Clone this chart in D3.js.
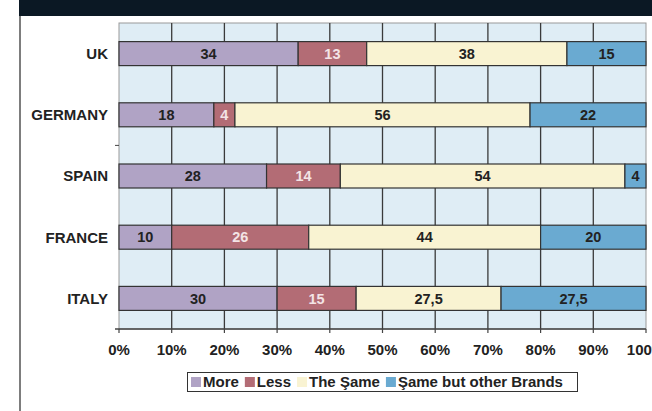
<!DOCTYPE html>
<html>
<head>
<meta charset="utf-8">
<script src="https://cdn.jsdelivr.net/npm/d3@7"></script>
<style>
  html, body { margin: 0; padding: 0; background: #fff; }
  svg { display: block; }
  text { font-family: Arial, "Liberation Sans", sans-serif; font-weight: bold; }
</style>
</head>
<body>
<svg id="chart" width="652" height="411"></svg>
<script>
// Countries (top to bottom) and share of answers per category, in %
const countries = ["UK", "GERMANY", "SPAIN", "FRANCE", "ITALY"];
const more       = [34, 18, 28, 10, 30];
const less       = [13, 4, 14, 26, 15];
const same       = [38, 56, 54, 44, 27.5];
const sameOther  = [15, 22, 4, 20, 27.5];
const seriesNames = ["More", "Less", "The Şame", "Şame but other Brands"];
const tickValues = [0, 10, 20, 30, 40, 50, 60, 70, 80, 90, 100];

const colors = ["#b0a3c5", "#b36c75", "#f9f3d2", "#6aaad1"];
const labelColors = ["#222", "#f3e4e6", "#222", "#222"];

const svg = d3.select("#chart");
const W = 652, H = 411;
const m = { left: 119, right: 6, top: 23, bottom: 82 };

// Header band and left frame line
svg.append("rect").attr("x", 19).attr("y", 0).attr("width", W - 19).attr("height", 16).attr("fill", "#0b1824");
svg.append("rect").attr("x", 19).attr("y", 16).attr("width", 2).attr("height", H - 16).attr("fill", "#7d7d7d");

const x = d3.scaleLinear().domain([0, 100]).range([m.left, W - m.right]);
const y = d3.scaleBand().domain(countries).range([m.top, H - m.bottom]).paddingInner(0).paddingOuter(0);

// Plot background
svg.append("rect")
  .attr("x", x(0)).attr("y", m.top)
  .attr("width", x(100) - x(0)).attr("height", y.range()[1] - m.top)
  .attr("fill", "#dfedf5").attr("stroke", "#999").attr("stroke-width", 1);

// Vertical gridlines
svg.append("g").selectAll("line").data(tickValues.slice(1, -1)).join("line")
  .attr("x1", d => x(d)).attr("x2", d => x(d))
  .attr("y1", m.top).attr("y2", y.range()[1])
  .attr("stroke", "#3a3a3a").attr("stroke-width", 1.3);

// Stacked data
const rows = countries.map((c, i) => ({ country: c, v: [more[i], less[i], same[i], sameOther[i]] }));
const barH = 24;
const segs = [];
rows.forEach(r => {
  let acc = 0;
  r.v.forEach((v, k) => {
    segs.push({ country: r.country, k, x0: acc, x1: acc + v, v });
    acc += v;
  });
});

const g = svg.append("g");
g.selectAll("rect").data(segs).join("rect")
  .attr("x", d => x(d.x0))
  .attr("y", d => y(d.country) + y.bandwidth() / 2 - barH / 2)
  .attr("width", d => x(d.x1) - x(d.x0))
  .attr("height", barH)
  .attr("fill", d => colors[d.k])
  .attr("stroke", "#333").attr("stroke-width", 1.2);

g.selectAll("text").data(segs).join("text")
  .attr("x", d => (x(d.x0) + x(d.x1)) / 2)
  .attr("y", d => y(d.country) + y.bandwidth() / 2)
  .attr("dy", "0.36em")
  .attr("text-anchor", "middle")
  .attr("font-size", 14.5)
  .attr("fill", d => labelColors[d.k])
  .text(d => String(d.v).replace(".", ","));

// Category labels
svg.append("g").selectAll("text").data(countries).join("text")
  .attr("x", 108)
  .attr("y", d => y(d) + y.bandwidth() / 2)
  .attr("dy", "0.36em")
  .attr("text-anchor", "end")
  .attr("font-size", 15)
  .attr("fill", "#222")
  .text(d => d);

// Single boundary tick on the category side
svg.append("line")
  .attr("x1", 115).attr("x2", x(0))
  .attr("y1", y("SPAIN")).attr("y2", y("SPAIN"))
  .attr("stroke", "#444").attr("stroke-width", 1);

// Bottom axis
const axisY = y.range()[1];
svg.append("line").attr("x1", 115).attr("x2", x(100)).attr("y1", axisY).attr("y2", axisY)
  .attr("stroke", "#444").attr("stroke-width", 1.3);
svg.append("g").selectAll("line").data(tickValues).join("line")
  .attr("x1", d => x(d)).attr("x2", d => x(d))
  .attr("y1", axisY).attr("y2", axisY + 4)
  .attr("stroke", "#444").attr("stroke-width", 1.2);
svg.append("g").selectAll("text").data(tickValues).join("text")
  .attr("x", d => x(d))
  .attr("y", axisY + 26)
  .attr("text-anchor", "middle")
  .attr("font-size", 15)
  .attr("fill", "#222")
  .text(d => d + "%");

// Legend
const lg = svg.append("g");
lg.append("rect").attr("x", 187.5).attr("y", 372.5).attr("width", 390).attr("height", 19)
  .attr("fill", "#fff").attr("stroke", "#333").attr("stroke-width", 1);
let lx = 191;
seriesNames.forEach((name, k) => {
  lg.append("rect").attr("x", lx).attr("y", 377).attr("width", 10).attr("height", 10).attr("fill", colors[k]);
  const t = lg.append("text").attr("x", lx + 12).attr("y", 382).attr("dy", "0.36em")
    .attr("font-size", 15).attr("fill", "#222").text(name);
  lx += 12 + t.node().getComputedTextLength() + 6;
});
</script>
</body>
</html>
